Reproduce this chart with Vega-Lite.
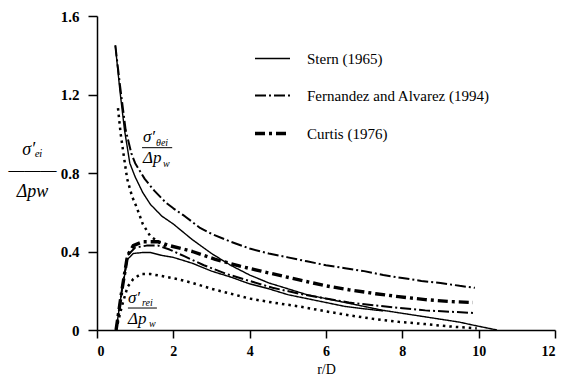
{
  "$schema": "https://vega.github.io/schema/vega-lite/v6.json",
  "width": 458,
  "height": 314,
  "autosize": "none",
  "padding": {"left": 97, "top": 16, "right": 16, "bottom": 54},
  "background": "white",
  "config": {"view": {"stroke": null}, "font": "Times New Roman, Times, Liberation Serif, DejaVu Serif, Noto Serif, serif"},
  "datasets": {
    "curves": [
      {"model": "Stern (1965)", "curve": "Stern t", "x": 0.48, "y": 1.45},
      {"model": "Stern (1965)", "curve": "Stern t", "x": 0.6, "y": 1.22},
      {"model": "Stern (1965)", "curve": "Stern t", "x": 0.72, "y": 1.02},
      {"model": "Stern (1965)", "curve": "Stern t", "x": 0.86, "y": 0.85},
      {"model": "Stern (1965)", "curve": "Stern t", "x": 1.0, "y": 0.78},
      {"model": "Stern (1965)", "curve": "Stern t", "x": 1.2, "y": 0.7},
      {"model": "Stern (1965)", "curve": "Stern t", "x": 1.4, "y": 0.64},
      {"model": "Stern (1965)", "curve": "Stern t", "x": 1.7, "y": 0.58},
      {"model": "Stern (1965)", "curve": "Stern t", "x": 2.0, "y": 0.54},
      {"model": "Stern (1965)", "curve": "Stern t", "x": 2.5, "y": 0.46},
      {"model": "Stern (1965)", "curve": "Stern t", "x": 3.0, "y": 0.39},
      {"model": "Stern (1965)", "curve": "Stern t", "x": 3.5, "y": 0.33},
      {"model": "Stern (1965)", "curve": "Stern t", "x": 4.0, "y": 0.28},
      {"model": "Stern (1965)", "curve": "Stern t", "x": 4.5, "y": 0.24},
      {"model": "Stern (1965)", "curve": "Stern t", "x": 5.0, "y": 0.21},
      {"model": "Stern (1965)", "curve": "Stern t", "x": 5.5, "y": 0.18},
      {"model": "Stern (1965)", "curve": "Stern t", "x": 6.0, "y": 0.16},
      {"model": "Stern (1965)", "curve": "Stern t", "x": 6.5, "y": 0.14},
      {"model": "Stern (1965)", "curve": "Stern t", "x": 7.0, "y": 0.12},
      {"model": "Stern (1965)", "curve": "Stern t", "x": 7.5, "y": 0.1},
      {"model": "Stern (1965)", "curve": "Stern t", "x": 8.0, "y": 0.085},
      {"model": "Stern (1965)", "curve": "Stern t", "x": 8.5, "y": 0.07},
      {"model": "Stern (1965)", "curve": "Stern t", "x": 9.0, "y": 0.055},
      {"model": "Stern (1965)", "curve": "Stern t", "x": 9.5, "y": 0.04},
      {"model": "Stern (1965)", "curve": "Stern t", "x": 9.85, "y": 0.025},
      {"model": "Stern (1965)", "curve": "Stern t", "x": 10.48, "y": 0.0},

      {"model": "Stern (1965)", "curve": "Stern r", "x": 0.5, "y": 0.0},
      {"model": "Stern (1965)", "curve": "Stern r", "x": 0.65, "y": 0.2},
      {"model": "Stern (1965)", "curve": "Stern r", "x": 0.8, "y": 0.36},
      {"model": "Stern (1965)", "curve": "Stern r", "x": 0.95, "y": 0.39},
      {"model": "Stern (1965)", "curve": "Stern r", "x": 1.2, "y": 0.395},
      {"model": "Stern (1965)", "curve": "Stern r", "x": 1.4, "y": 0.395},
      {"model": "Stern (1965)", "curve": "Stern r", "x": 1.7, "y": 0.38},
      {"model": "Stern (1965)", "curve": "Stern r", "x": 2.0, "y": 0.37},
      {"model": "Stern (1965)", "curve": "Stern r", "x": 2.5, "y": 0.34},
      {"model": "Stern (1965)", "curve": "Stern r", "x": 3.0, "y": 0.3},
      {"model": "Stern (1965)", "curve": "Stern r", "x": 3.5, "y": 0.27},
      {"model": "Stern (1965)", "curve": "Stern r", "x": 4.0, "y": 0.235},
      {"model": "Stern (1965)", "curve": "Stern r", "x": 4.5, "y": 0.21},
      {"model": "Stern (1965)", "curve": "Stern r", "x": 5.0, "y": 0.18},
      {"model": "Stern (1965)", "curve": "Stern r", "x": 5.5, "y": 0.16},
      {"model": "Stern (1965)", "curve": "Stern r", "x": 6.0, "y": 0.14},
      {"model": "Stern (1965)", "curve": "Stern r", "x": 6.5, "y": 0.12},
      {"model": "Stern (1965)", "curve": "Stern r", "x": 7.0, "y": 0.108},
      {"model": "Stern (1965)", "curve": "Stern r", "x": 7.5, "y": 0.097},

      {"model": "Fernandez and Alvarez (1994)", "curve": "Fern t", "x": 0.48, "y": 1.45},
      {"model": "Fernandez and Alvarez (1994)", "curve": "Fern t", "x": 0.6, "y": 1.25},
      {"model": "Fernandez and Alvarez (1994)", "curve": "Fern t", "x": 0.75, "y": 1.02},
      {"model": "Fernandez and Alvarez (1994)", "curve": "Fern t", "x": 0.9, "y": 0.9},
      {"model": "Fernandez and Alvarez (1994)", "curve": "Fern t", "x": 1.0, "y": 0.85},
      {"model": "Fernandez and Alvarez (1994)", "curve": "Fern t", "x": 1.25, "y": 0.77},
      {"model": "Fernandez and Alvarez (1994)", "curve": "Fern t", "x": 1.5, "y": 0.71},
      {"model": "Fernandez and Alvarez (1994)", "curve": "Fern t", "x": 1.8, "y": 0.65},
      {"model": "Fernandez and Alvarez (1994)", "curve": "Fern t", "x": 2.0, "y": 0.62},
      {"model": "Fernandez and Alvarez (1994)", "curve": "Fern t", "x": 2.3, "y": 0.58},
      {"model": "Fernandez and Alvarez (1994)", "curve": "Fern t", "x": 2.7, "y": 0.52},
      {"model": "Fernandez and Alvarez (1994)", "curve": "Fern t", "x": 3.0, "y": 0.49},
      {"model": "Fernandez and Alvarez (1994)", "curve": "Fern t", "x": 3.5, "y": 0.45},
      {"model": "Fernandez and Alvarez (1994)", "curve": "Fern t", "x": 4.0, "y": 0.415},
      {"model": "Fernandez and Alvarez (1994)", "curve": "Fern t", "x": 4.5, "y": 0.39},
      {"model": "Fernandez and Alvarez (1994)", "curve": "Fern t", "x": 5.0, "y": 0.37},
      {"model": "Fernandez and Alvarez (1994)", "curve": "Fern t", "x": 5.5, "y": 0.35},
      {"model": "Fernandez and Alvarez (1994)", "curve": "Fern t", "x": 6.0, "y": 0.33},
      {"model": "Fernandez and Alvarez (1994)", "curve": "Fern t", "x": 6.5, "y": 0.315},
      {"model": "Fernandez and Alvarez (1994)", "curve": "Fern t", "x": 7.0, "y": 0.3},
      {"model": "Fernandez and Alvarez (1994)", "curve": "Fern t", "x": 7.5, "y": 0.28},
      {"model": "Fernandez and Alvarez (1994)", "curve": "Fern t", "x": 8.0, "y": 0.265},
      {"model": "Fernandez and Alvarez (1994)", "curve": "Fern t", "x": 8.5, "y": 0.25},
      {"model": "Fernandez and Alvarez (1994)", "curve": "Fern t", "x": 9.0, "y": 0.24},
      {"model": "Fernandez and Alvarez (1994)", "curve": "Fern t", "x": 9.5, "y": 0.225},
      {"model": "Fernandez and Alvarez (1994)", "curve": "Fern t", "x": 9.9, "y": 0.215},

      {"model": "Fernandez and Alvarez (1994)", "curve": "Fern r", "x": 0.5, "y": 0.0},
      {"model": "Fernandez and Alvarez (1994)", "curve": "Fern r", "x": 0.65, "y": 0.2},
      {"model": "Fernandez and Alvarez (1994)", "curve": "Fern r", "x": 0.8, "y": 0.38},
      {"model": "Fernandez and Alvarez (1994)", "curve": "Fern r", "x": 1.0, "y": 0.42},
      {"model": "Fernandez and Alvarez (1994)", "curve": "Fern r", "x": 1.3, "y": 0.43},
      {"model": "Fernandez and Alvarez (1994)", "curve": "Fern r", "x": 1.6, "y": 0.43},
      {"model": "Fernandez and Alvarez (1994)", "curve": "Fern r", "x": 1.9, "y": 0.41},
      {"model": "Fernandez and Alvarez (1994)", "curve": "Fern r", "x": 2.3, "y": 0.375},
      {"model": "Fernandez and Alvarez (1994)", "curve": "Fern r", "x": 2.8, "y": 0.33},
      {"model": "Fernandez and Alvarez (1994)", "curve": "Fern r", "x": 3.4, "y": 0.285},
      {"model": "Fernandez and Alvarez (1994)", "curve": "Fern r", "x": 4.0, "y": 0.25},
      {"model": "Fernandez and Alvarez (1994)", "curve": "Fern r", "x": 4.6, "y": 0.215},
      {"model": "Fernandez and Alvarez (1994)", "curve": "Fern r", "x": 5.3, "y": 0.185},
      {"model": "Fernandez and Alvarez (1994)", "curve": "Fern r", "x": 6.0, "y": 0.16},
      {"model": "Fernandez and Alvarez (1994)", "curve": "Fern r", "x": 6.6, "y": 0.14},
      {"model": "Fernandez and Alvarez (1994)", "curve": "Fern r", "x": 7.3, "y": 0.125},
      {"model": "Fernandez and Alvarez (1994)", "curve": "Fern r", "x": 7.9, "y": 0.113},
      {"model": "Fernandez and Alvarez (1994)", "curve": "Fern r", "x": 8.6, "y": 0.1},
      {"model": "Fernandez and Alvarez (1994)", "curve": "Fern r", "x": 9.25, "y": 0.093},
      {"model": "Fernandez and Alvarez (1994)", "curve": "Fern r", "x": 9.85, "y": 0.087},

      {"model": "Curtis (1976)", "curve": "Curtis r", "x": 0.5, "y": 0.0},
      {"model": "Curtis (1976)", "curve": "Curtis r", "x": 0.65, "y": 0.2},
      {"model": "Curtis (1976)", "curve": "Curtis r", "x": 0.8, "y": 0.38},
      {"model": "Curtis (1976)", "curve": "Curtis r", "x": 0.95, "y": 0.43},
      {"model": "Curtis (1976)", "curve": "Curtis r", "x": 1.2, "y": 0.45},
      {"model": "Curtis (1976)", "curve": "Curtis r", "x": 1.6, "y": 0.45},
      {"model": "Curtis (1976)", "curve": "Curtis r", "x": 1.9, "y": 0.43},
      {"model": "Curtis (1976)", "curve": "Curtis r", "x": 2.5, "y": 0.4},
      {"model": "Curtis (1976)", "curve": "Curtis r", "x": 3.1, "y": 0.36},
      {"model": "Curtis (1976)", "curve": "Curtis r", "x": 3.75, "y": 0.325},
      {"model": "Curtis (1976)", "curve": "Curtis r", "x": 4.3, "y": 0.3},
      {"model": "Curtis (1976)", "curve": "Curtis r", "x": 5.3, "y": 0.255},
      {"model": "Curtis (1976)", "curve": "Curtis r", "x": 6.0, "y": 0.225},
      {"model": "Curtis (1976)", "curve": "Curtis r", "x": 6.6, "y": 0.205},
      {"model": "Curtis (1976)", "curve": "Curtis r", "x": 7.3, "y": 0.185},
      {"model": "Curtis (1976)", "curve": "Curtis r", "x": 7.9, "y": 0.17},
      {"model": "Curtis (1976)", "curve": "Curtis r", "x": 8.6, "y": 0.155},
      {"model": "Curtis (1976)", "curve": "Curtis r", "x": 9.25, "y": 0.145},
      {"model": "Curtis (1976)", "curve": "Curtis r", "x": 9.85, "y": 0.14},

      {"model": "Other", "curve": "Dot t", "x": 0.55, "y": 1.13},
      {"model": "Other", "curve": "Dot t", "x": 0.62, "y": 1.0},
      {"model": "Other", "curve": "Dot t", "x": 0.7, "y": 0.89},
      {"model": "Other", "curve": "Dot t", "x": 0.79, "y": 0.77},
      {"model": "Other", "curve": "Dot t", "x": 0.92, "y": 0.68},
      {"model": "Other", "curve": "Dot t", "x": 1.05, "y": 0.62},
      {"model": "Other", "curve": "Dot t", "x": 1.2, "y": 0.54},
      {"model": "Other", "curve": "Dot t", "x": 1.39, "y": 0.48},
      {"model": "Other", "curve": "Dot t", "x": 1.6, "y": 0.45},
      {"model": "Other", "curve": "Dot t", "x": 1.85, "y": 0.42},

      {"model": "Other", "curve": "Dot r", "x": 0.5, "y": 0.0},
      {"model": "Other", "curve": "Dot r", "x": 0.65, "y": 0.12},
      {"model": "Other", "curve": "Dot r", "x": 0.8, "y": 0.22},
      {"model": "Other", "curve": "Dot r", "x": 0.95, "y": 0.26},
      {"model": "Other", "curve": "Dot r", "x": 1.15, "y": 0.285},
      {"model": "Other", "curve": "Dot r", "x": 1.4, "y": 0.285},
      {"model": "Other", "curve": "Dot r", "x": 1.7, "y": 0.275},
      {"model": "Other", "curve": "Dot r", "x": 2.1, "y": 0.26},
      {"model": "Other", "curve": "Dot r", "x": 2.5, "y": 0.24},
      {"model": "Other", "curve": "Dot r", "x": 3.0, "y": 0.21},
      {"model": "Other", "curve": "Dot r", "x": 3.5, "y": 0.185},
      {"model": "Other", "curve": "Dot r", "x": 4.0, "y": 0.16},
      {"model": "Other", "curve": "Dot r", "x": 4.6, "y": 0.14},
      {"model": "Other", "curve": "Dot r", "x": 5.3, "y": 0.12},
      {"model": "Other", "curve": "Dot r", "x": 6.0, "y": 0.095},
      {"model": "Other", "curve": "Dot r", "x": 6.6, "y": 0.075},
      {"model": "Other", "curve": "Dot r", "x": 7.3, "y": 0.055},
      {"model": "Other", "curve": "Dot r", "x": 7.9, "y": 0.042},
      {"model": "Other", "curve": "Dot r", "x": 8.6, "y": 0.03},
      {"model": "Other", "curve": "Dot r", "x": 9.25, "y": 0.018},
      {"model": "Other", "curve": "Dot r", "x": 9.95, "y": 0.008}
    ],
    "bigText": [
      {"x": 1.205, "y": 0.959, "t": "σ′"},
      {"x": 1.205, "y": 0.852, "t": "Δp"},
      {"x": 0.81, "y": 0.138, "t": "σ′"},
      {"x": 0.81, "y": 0.031, "t": "Δp"}
    ],
    "subText": [
      {"x": 1.546, "y": 0.939, "t": "θei"},
      {"x": 1.73, "y": 0.832, "t": "w"},
      {"x": 1.18, "y": 0.122, "t": "rei"},
      {"x": 1.36, "y": 0.015, "t": "w"}
    ],
    "bars": [
      {"x": 1.18, "x2": 1.97, "y": 0.929},
      {"x": 0.81, "x2": 1.57, "y": 0.112}
    ]
  },
  "layer": [
    {
      "data": {"name": "curves"},
      "mark": {"type": "line", "color": "black", "strokeCap": "butt", "strokeJoin": "round"},
      "encoding": {
        "x": {
          "field": "x", "type": "quantitative",
          "scale": {"domain": [0, 12], "nice": false, "zero": false},
          "axis": {
            "values": [0, 2, 4, 6, 8, 10, 12],
            "title": "r/D",
            "grid": false,
            "domainColor": "black", "domainWidth": 1.5,
            "tickColor": "black", "tickWidth": 1.5, "tickSize": 8,
            "labelFontWeight": "bold", "labelFontSize": 14,
            "labelColor": "black", "labelPadding": 6,
            "titleFontWeight": "normal", "titleFontSize": 14,
            "titleColor": "black", "titlePadding": 4
          }
        },
        "y": {
          "field": "y", "type": "quantitative",
          "scale": {"domain": [0, 1.6], "nice": false},
          "axis": {
            "values": [0, 0.4, 0.8, 1.2, 1.6],
            "labelExpr": "datum.value == 0 ? '0' : format(datum.value, '.1f')",
            "grid": false,
            "domainColor": "black", "domainWidth": 1.5,
            "tickColor": "black", "tickWidth": 1.5, "tickSize": 9,
            "labelFontWeight": "bold", "labelFontSize": 15,
            "labelColor": "black", "labelPadding": 9,
            "title": ["σ′ₑᵢ", "———", "Δpw"],
            "titleFontStyle": "italic", "titleFontWeight": "normal",
            "titleFontSize": 18, "titleLineHeight": 21,
            "titleColor": "black", "titleAngle": 0,
            "titleX": -65, "titleY": 133, "titleAlign": "center", "titleBaseline": "middle"
          }
        },
        "detail": {"field": "curve"},
        "strokeDash": {
          "field": "model", "type": "nominal",
          "scale": {
            "domain": ["Stern (1965)", "Fernandez and Alvarez (1994)", "Curtis (1976)", "Other"],
            "range": [[1, 0], [11, 3, 2, 3], [10, 4, 3, 4], [2.5, 4]]
          },
          "legend": {
            "values": ["Stern (1965)", "Fernandez and Alvarez (1994)", "Curtis (1976)"],
            "title": null,
            "orient": "none", "legendX": 156, "legendY": 24,
            "symbolType": "stroke", "symbolSize": 1225, "symbolStrokeColor": "black",
            "labelFontSize": 15, "labelColor": "black",
            "labelOffset": 15, "rowPadding": 10, "labelLimit": 400
          }
        },
        "strokeWidth": {
          "field": "model", "type": "ordinal",
          "scale": {
            "type": "ordinal",
            "domain": ["Stern (1965)", "Fernandez and Alvarez (1994)", "Curtis (1976)", "Other"],
            "range": [1.4, 2, 3.4, 2.5]
          },
          "legend": {
            "values": ["Stern (1965)", "Fernandez and Alvarez (1994)", "Curtis (1976)"],
            "title": null,
            "orient": "none", "legendX": 156, "legendY": 24,
            "symbolType": "stroke", "symbolSize": 1225, "symbolStrokeColor": "black",
            "labelFontSize": 15, "labelColor": "black",
            "labelOffset": 15, "rowPadding": 10, "labelLimit": 400
          }
        }
      }
    },
    {
      "data": {"name": "bigText"},
      "mark": {"type": "text", "fontStyle": "italic", "fontSize": 17, "align": "left", "baseline": "alphabetic", "color": "black"},
      "encoding": {
        "x": {"field": "x", "type": "quantitative"},
        "y": {"field": "y", "type": "quantitative"},
        "text": {"field": "t"}
      }
    },
    {
      "data": {"name": "subText"},
      "mark": {"type": "text", "fontStyle": "italic", "fontSize": 10, "align": "left", "baseline": "alphabetic", "color": "black"},
      "encoding": {
        "x": {"field": "x", "type": "quantitative"},
        "y": {"field": "y", "type": "quantitative"},
        "text": {"field": "t"}
      }
    },
    {
      "data": {"name": "bars"},
      "mark": {"type": "rule", "color": "black", "strokeWidth": 1},
      "encoding": {
        "x": {"field": "x", "type": "quantitative"},
        "x2": {"field": "x2"},
        "y": {"field": "y", "type": "quantitative"}
      }
    }
  ]
}
